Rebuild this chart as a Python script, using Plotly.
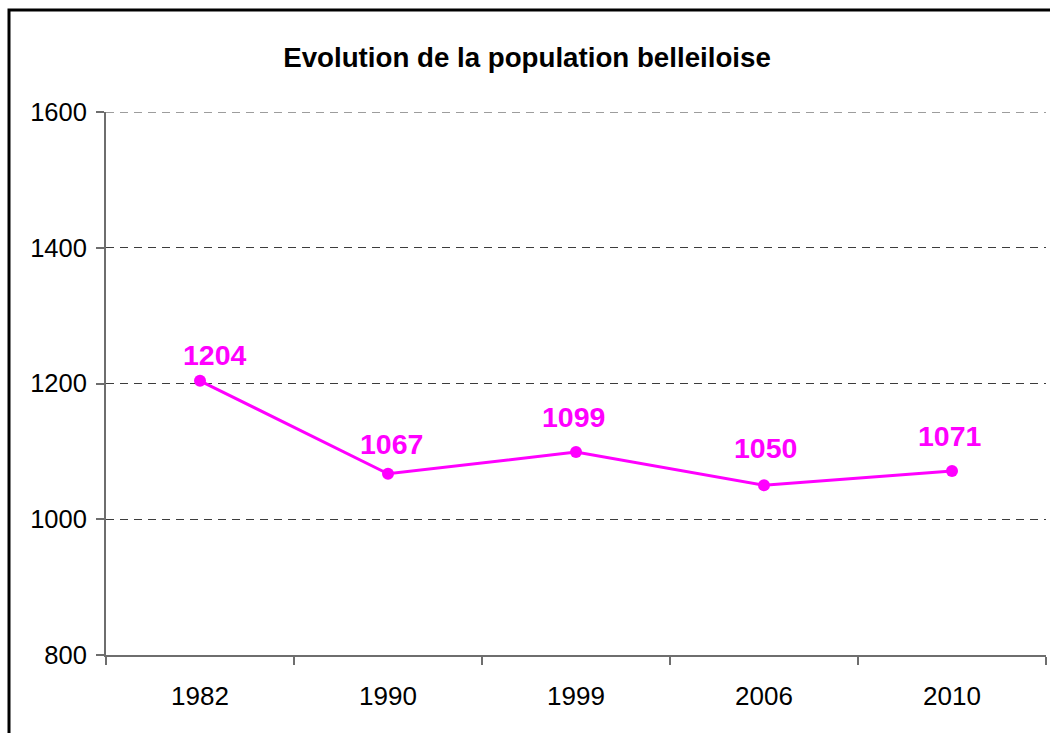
import plotly.graph_objects as go

# Population de Belle-Île par recensement
annees = ["1982", "1990", "1999", "2006", "2010"]
population = [1204, 1067, 1099, 1050, 1071]
ticks_y = [800, 1000, 1200, 1400, 1600]

MAGENTA = "#FF00FF"
FONT = "Arial, Liberation Sans, sans-serif"
GRID = "#3c3c3c"

fig = go.Figure()
fig.add_trace(go.Scatter(
    x=annees, y=population, mode="lines+markers",
    line=dict(color=MAGENTA, width=3),
    marker=dict(color=MAGENTA, size=12),
    hoverinfo="skip", showlegend=False,
))

# étiquettes de valeurs au-dessus des points (x = indice de catégorie)
label_dx = [15, 3, -3, 1, -2]
label_dy = [26, 30, 35, 37, 35]
for i, (val, dx, dy) in enumerate(zip(population, label_dx, label_dy)):
    fig.add_annotation(
        x=i, y=val, xref="x", yref="y", text=f"<b>{val}</b>", showarrow=False,
        xshift=dx, yshift=dy, yanchor="middle",
        font=dict(family=FONT, size=28.5, color=MAGENTA),
    )

# ligne de grille du haut (limite de l'axe)
fig.add_hline(y=ticks_y[-1], line=dict(color=GRID, width=1, dash="8px,6px"))

# cadre noir autour du graphique
fig.add_shape(
    type="rect", xref="paper", yref="paper",
    x0=(9 - 106) / 940, x1=(1060 - 106) / 940,
    y0=(655 - 750) / 543, y1=(655 - 10) / 543,
    line=dict(color="black", width=3), layer="below",
)

fig.update_layout(
    width=1050, height=733,
    margin=dict(l=106, r=4, t=112, b=78),
    paper_bgcolor="white", plot_bgcolor="white",
    font=dict(family=FONT, color="black"),
    title=dict(
        text="<b>Evolution de la population belleiloise</b>",
        x=527 / 1050, xanchor="center", y=1 - 57 / 733, yanchor="middle",
        font=dict(family=FONT, size=27.7, color="black"),
    ),
    xaxis=dict(
        type="category", range=[-0.5, 4.5],
        showline=True, linecolor="#6e6e6e", linewidth=2,
        ticks="outside", tickson="boundaries", ticklen=8,
        tickcolor="#6e6e6e", tickwidth=2,
        showgrid=False, zeroline=False,
        tickfont=dict(size=26, family=FONT, color="black"),
        ticklabelstandoff=17,
    ),
    yaxis=dict(
        range=[800, 1600], tickvals=ticks_y,
        showline=True, linecolor="#6e6e6e", linewidth=2,
        ticks="outside", ticklen=8, tickcolor="#6e6e6e", tickwidth=2,
        showgrid=True, gridcolor=GRID, gridwidth=1, griddash="8px,6px",
        zeroline=False,
        tickfont=dict(size=25.5, family=FONT, color="black"),
        ticklabelstandoff=4,
    ),
)

fig.write_html("out.html")
